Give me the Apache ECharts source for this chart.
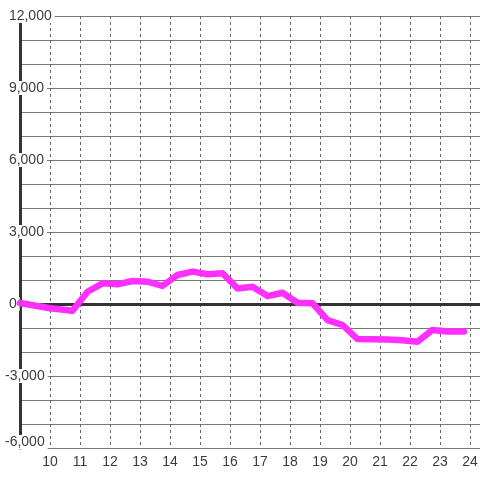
<!DOCTYPE html>
<html>
<head>
<meta charset="utf-8">
<script src="https://cdn.jsdelivr.net/npm/echarts@6/dist/echarts.min.js"></script>
<style>
  html, body { margin: 0; padding: 0; background: #fff; }
  #chart { width: 480px; height: 480px; }
</style>
</head>
<body>
<div id="chart"></div>
<script>
// hour of day (x) and value (y)
const hours = [9.0, 10.0, 10.75, 11.25, 11.75, 12.25, 12.75, 13.25, 13.75, 14.25, 14.75, 15.25, 15.75,
  16.25, 16.75, 17.25, 17.75, 18.25, 18.75, 19.25, 19.75, 20.25, 20.75, 21.25, 21.75, 22.25, 22.75, 23.25, 23.8];
const values = [40, -180, -280, 510, 860, 820, 960, 930, 750, 1210, 1350, 1240, 1280,
  650, 720, 330, 470, 55, 30, -670, -875, -1460, -1470, -1480, -1510, -1570, -1080, -1150, -1150];

const X_MIN = 9, X_MAX = 24.333;
const Y_MIN = -6000, Y_MAX = 12000;

const TEXT = '#3c3c3c';
const GRID_LINE = '#777';
const AXIS_DARK = '#333';
const C_LINE = '#ff30ff';
const FONT = 'Liberation Sans';

const chart = echarts.init(document.getElementById('chart'));

chart.setOption({
  animation: false,
  backgroundColor: '#fff',
  // fixed plot box; labels may hang past the left edge like in the reference
  grid: { left: 20, right: 0, top: 16, bottom: 32, containLabel: false, outerBoundsMode: 'none' },
  xAxis: [
    {
      // line at y = 0 plus dashed hour grid
      type: 'value', position: 'top', min: X_MIN, max: X_MAX, interval: 1,
      axisLine: { show: true, onZero: true, lineStyle: { color: AXIS_DARK, width: 3 } },
      axisTick: { show: false },
      axisLabel: { show: false },
      splitLine: { show: true, lineStyle: { color: '#666', width: 1, type: [3, 3] } },
    },
    {
      // hour labels at the bottom
      type: 'value', position: 'bottom', min: X_MIN, max: X_MAX, interval: 1,
      axisLine: { show: false, onZero: false },
      axisTick: { show: false },
      splitLine: { show: false },
      axisLabel: {
        showMinLabel: false, showMaxLabel: false, margin: 7,
        fontFamily: FONT, fontSize: 14, color: TEXT,
      },
    },
  ],
  yAxis: {
    type: 'value', min: Y_MIN, max: Y_MAX, interval: 3000,
    axisLine: { show: true, onZero: false, lineStyle: { color: AXIS_DARK, width: 3 } },
    axisTick: { show: false },
    splitLine: { show: true, lineStyle: { color: GRID_LINE, width: 1 } },
    minorTick: { show: false, splitNumber: 3 },
    minorSplitLine: { show: true, lineStyle: { color: GRID_LINE, width: 1 } },
    axisLabel: {
      align: 'left', margin: 18,
      fontFamily: FONT, fontSize: 14, lineHeight: 14, color: TEXT,
      // non-negative labels get a leading space so the minus sign hangs out;
      // the bottom label sits a bit above its line, as in the reference
      formatter: v => {
        const t = '{t|' + (v < 0 ? '' : ' ') + v.toLocaleString('en-US') + '}';
        return v === Y_MIN ? t + '\n{gap| }' : t;
      },
      rich: {
        t: {
          fontFamily: FONT, fontSize: 14, lineHeight: 14, color: TEXT,
          backgroundColor: '#fff', padding: [0, 3, 0, 3],
        },
        gap: { fontSize: 12, lineHeight: 12, height: 12 },
      },
    },
  },
  series: [
    {
      type: 'line', xAxisIndex: 1, yAxisIndex: 0,
      data: hours.map((h, i) => [h, values[i]]),
      showSymbol: false, clip: false,
      lineStyle: { color: C_LINE, width: 6.5, cap: 'round', join: 'round' },
      z: 3,
    },
  ],
});
</script>
</body>
</html>
